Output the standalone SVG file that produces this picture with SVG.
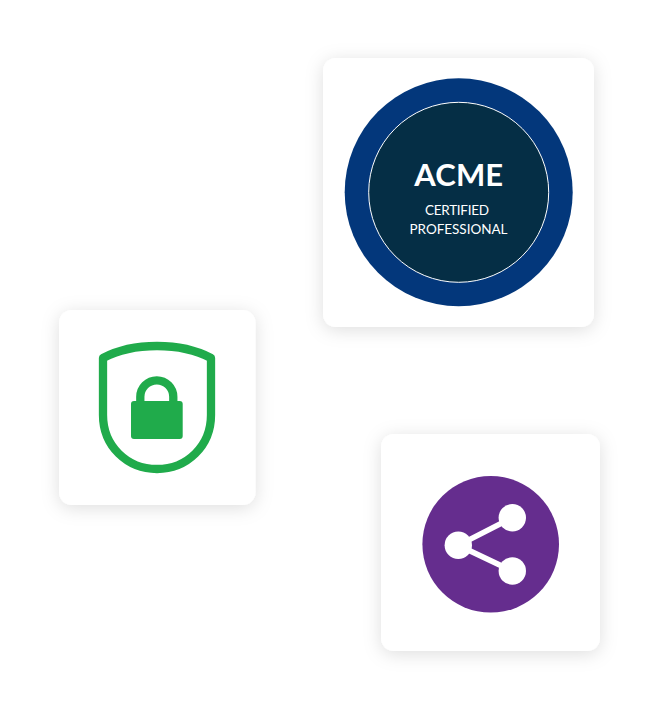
<svg xmlns="http://www.w3.org/2000/svg" width="665" height="720" viewBox="0 0 665 720">
  <style>
    .card { fill: #ffffff; filter: url(#soft); }
    .t { fill: #ffffff; font-family: "Lato", "Inter", sans-serif; text-anchor: middle; }
    .sub { font-size: 13.500px; }
    .green { fill: #20ab4b; }
    .greenline { fill: none; stroke: #20ab4b; stroke-width: 8.300; stroke-linejoin: round; }
  </style>
  <defs>
    <filter id="soft" x="-25%" y="-25%" width="150%" height="150%">
      <feDropShadow dx="0" dy="3" stdDeviation="9" flood-color="#000000" flood-opacity="0.13"/>
    </filter>
  </defs>
  <rect width="665" height="720" fill="#ffffff"/>
  <g id="certified-card">
    <rect class="card" x="323" y="58" width="271" height="269" rx="13"/>
    <circle cx="458.700" cy="192.200" r="114" fill="#03377b"/>
    <circle cx="458.700" cy="192.300" r="90" fill="#052e45" stroke="#ffffff" stroke-width="1"/>
    <text class="t" x="458.700" y="186" font-size="31" font-weight="700" textLength="89">ACME</text>
    <text class="t sub" x="457" y="215" textLength="64">CERTIFIED</text>
    <text class="t sub" x="458.500" y="234" textLength="98">PROFESSIONAL</text>
  </g>
  <g id="security-card">
    <rect class="card" x="59" y="310" width="196.500" height="195" rx="13"/>
    <path class="greenline" d="M103 358 C120 349 138 346 157 346 C176 346 194 349 211 358 V415 C211 446 187 469 157 469 C127 469 103 446 103 415 Z"/>
    <path class="greenline" d="M140.300 403 V396.800 A16.500 16.500 0 0 1 173.300 396.800 V403"/>
    <rect class="green" x="131" y="401" width="51.700" height="38" rx="3"/>
  </g>
  <g id="share-card">
    <rect class="card" x="381" y="434" width="219" height="217" rx="13"/>
    <circle cx="490.700" cy="544.300" r="68.300" fill="#652d8e"/>
    <path d="M512.300 517.700 L458.300 545.300 L512.300 571" fill="none" stroke="#ffffff" stroke-width="5.500"/>
    <circle cx="458.300" cy="545.300" r="13.700" fill="#ffffff"/>
    <circle cx="512.300" cy="517.700" r="13.700" fill="#ffffff"/>
    <circle cx="512.300" cy="571" r="13.700" fill="#ffffff"/>
  </g>
</svg>
